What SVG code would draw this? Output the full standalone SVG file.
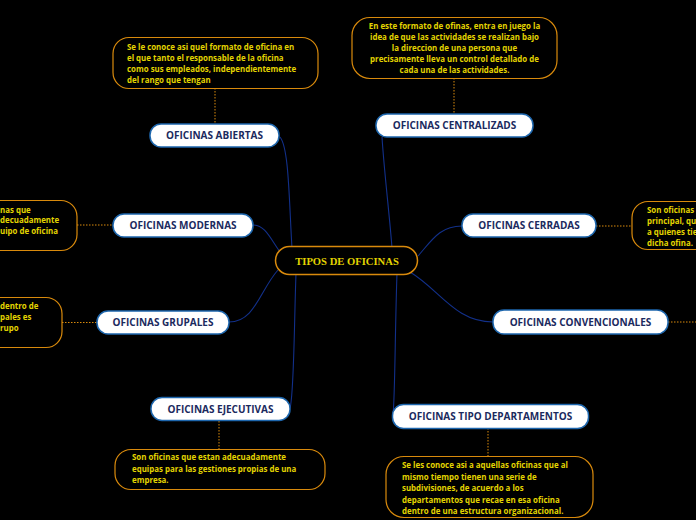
<svg xmlns="http://www.w3.org/2000/svg" width="696" height="520" viewBox="0 0 696 520">
<style>
.topic rect{fill:#fff;stroke:#1d66ad;stroke-width:1.5}
.topic text{font-family:"Open Sans","Noto Sans",sans-serif;font-weight:bold;font-size:10px;fill:#1b2a5e;text-anchor:middle}
.note rect{fill:#000;stroke:#d98a0c;stroke-width:1.2}
.note text{font-family:"Open Sans","Noto Sans",sans-serif;font-weight:bold;font-size:7.9px;fill:#e3d400}
.main rect{fill:#000;stroke:#d98a0c;stroke-width:1.5}
.main text{font-family:"Liberation Serif","DejaVu Serif",serif;font-weight:bold;font-size:10.6px;fill:#e3d400;text-anchor:middle}
.blue path{fill:none;stroke:#12308a;stroke-width:1.1}
.dot line{stroke:#d98a0c;stroke-width:1;stroke-dasharray:1.5 1.5}
</style>
<rect width="696" height="520" fill="#000"/>
<g id="connectors">
<g class="blue">
<path d="M292 248 C289 200 289 148 280 137"/>
<path d="M392 248 C390 220 384 170 382 137"/>
<path d="M418 256 C432 240 440 226 462 226"/>
<path d="M280 252 C270 238 265 225 253 225"/>
<path d="M278 270 C260 290 255 322 229 322"/>
<path d="M410 272 C440 290 455 322 493 322"/>
<path d="M296 273 C294 330 294 395 290 408"/>
<path d="M397 273 C395 330 395 400 393 414"/>
</g>
<g class="dot">
<line x1="215" y1="88" x2="215" y2="124"/>
<line x1="454" y1="78" x2="454" y2="114"/>
<line x1="77" y1="225" x2="113" y2="225"/>
<line x1="62" y1="322.5" x2="97" y2="322.5"/>
<line x1="596" y1="226" x2="632" y2="226"/>
<line x1="668" y1="322" x2="696" y2="322"/>
<line x1="219" y1="421" x2="219" y2="449"/>
<line x1="488" y1="428" x2="488" y2="456"/>
</g>
</g>
<g id="central" class="main">
<rect x="275.5" y="246.5" width="142" height="28" rx="14"/>
<text x="347" y="264.5">TIPOS DE OFICINAS</text>
</g>
<g id="abiertas" class="topic">
<rect x="150" y="124" width="129" height="23" rx="11"/>
<text x="214.5" y="139">OFICINAS ABIERTAS</text>
</g>
<g id="centralizads" class="topic">
<rect x="376" y="114" width="157" height="23" rx="11"/>
<text x="454.5" y="129">OFICINAS CENTRALIZADS</text>
</g>
<g id="cerradas" class="topic">
<rect x="462" y="214" width="134" height="23" rx="11"/>
<text x="529" y="229">OFICINAS CERRADAS</text>
</g>
<g id="modernas" class="topic">
<rect x="113" y="214" width="140" height="23" rx="11"/>
<text x="183" y="229">OFICINAS MODERNAS</text>
</g>
<g id="grupales" class="topic">
<rect x="97" y="311" width="132" height="23" rx="11"/>
<text x="163" y="326">OFICINAS GRUPALES</text>
</g>
<g id="convencionales" class="topic">
<rect x="493" y="310" width="175" height="24" rx="11"/>
<text x="580.5" y="325.5">OFICINAS CONVENCIONALES</text>
</g>
<g id="ejecutivas" class="topic">
<rect x="151" y="397.5" width="139" height="23" rx="11"/>
<text x="220.5" y="412.5">OFICINAS EJECUTIVAS</text>
</g>
<g id="departamentos" class="topic">
<rect x="392.5" y="404.5" width="196" height="24" rx="11"/>
<text x="490.5" y="420">OFICINAS TIPO DEPARTAMENTOS</text>
</g>
<g id="note-abiertas" class="note">
<rect x="113" y="37.5" width="205" height="51" rx="16"/>
<text x="127" y="49.5">Se le conoce asi quel formato de oficina en</text>
<text x="127" y="60.5">el que tanto el responsable de la oficina</text>
<text x="127" y="71.5">como sus empleados, independientemente</text>
<text x="127" y="82.5">del rango que tengan</text>
</g>
<g id="note-centralizads" class="note">
<rect x="352" y="17.5" width="205" height="61" rx="18"/>
<g text-anchor="middle">
<text x="454.5" y="29">En este formato de ofinas, entra en juego la</text>
<text x="454.5" y="40">idea de que las actividades se realizan bajo</text>
<text x="454.5" y="51">la direccion de una persona que</text>
<text x="454.5" y="62">precisamente lleva un control detallado de</text>
<text x="454.5" y="73">cada una de las actividades.</text>
</g>
</g>
<g id="note-modernas" class="note">
<rect x="-40" y="200.5" width="117" height="50" rx="16"/>
<text x="0" y="212.5">nas que</text>
<text x="0" y="222.5">decuadamente</text>
<text x="0" y="233.5">uipo de oficina</text>
</g>
<g id="note-grupales" class="note">
<rect x="-40" y="297.5" width="102" height="50" rx="16"/>
<text x="0" y="309">dentro de</text>
<text x="0" y="319.5">pales es</text>
<text x="0" y="330.5">rupo</text>
</g>
<g id="note-cerradas" class="note">
<rect x="632" y="201.5" width="100" height="48" rx="16"/>
<text x="647" y="213">Son oficinas</text>
<text x="647" y="224">principal, qu</text>
<text x="647" y="235">a quienes tie</text>
<text x="647" y="246">dicha ofina.</text>
</g>
<g id="note-ejecutivas" class="note">
<rect x="115" y="449.5" width="210" height="40" rx="16"/>
<text x="132" y="460">Son oficinas que estan adecuadamente</text>
<text x="132" y="471.5">equipas para las gestiones propias de una</text>
<text x="132" y="483">empresa.</text>
</g>
<g id="note-departamentos" class="note">
<rect x="386" y="456.5" width="207" height="61" rx="18"/>
<text x="402" y="468">Se les conoce asi a aquellas oficinas que al</text>
<text x="402" y="479.5">mismo tiempo tienen una serie de</text>
<text x="402" y="491">subdivisiones, de acuerdo a los</text>
<text x="402" y="502.5">departamentos que recae en esa oficina</text>
<text x="402" y="514">dentro de una estructura organizacional.</text>
</g>
</svg>
